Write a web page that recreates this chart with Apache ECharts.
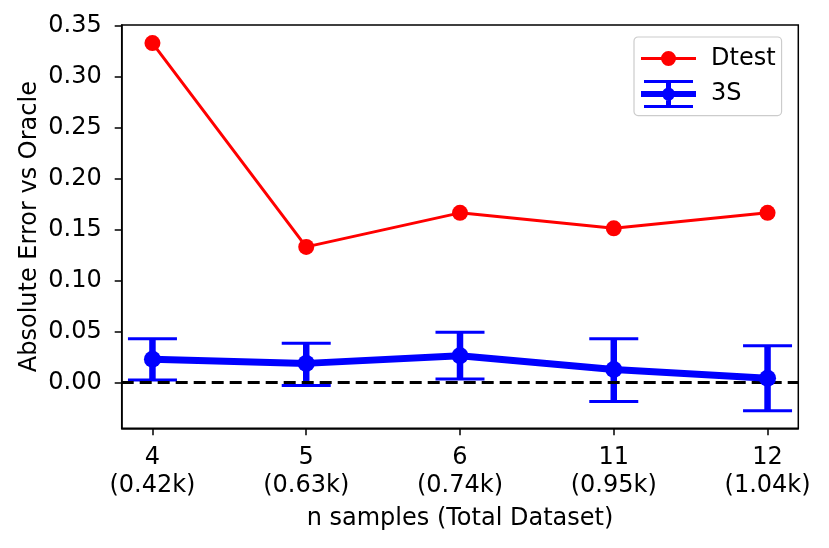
<!DOCTYPE html>
<html>
<head>
<meta charset="utf-8">
<script src="https://cdn.jsdelivr.net/npm/echarts@6/dist/echarts.min.js"></script>
<style>
html,body{margin:0;padding:0;background:#fff;}
#chart{width:829px;height:548px;}
</style>
</head>
<body>
<div id="chart"></div>
<script>
// ---- data ----
const nSamples = ['4', '5', '6', '11', '12'];
const totalDataset = ['0.42k', '0.63k', '0.74k', '0.95k', '1.04k'];
const dtestValues = [0.3333, 0.1333, 0.1667, 0.1515, 0.1667];
const s3Values = [0.0230, 0.0190, 0.0265, 0.0131, 0.0043];
const s3Lower = [0.0026, -0.0026, 0.0036, -0.0183, -0.0275];
const s3Upper = [0.0432, 0.0387, 0.0495, 0.0432, 0.0363];
const yTicks = [0, 0.05, 0.10, 0.15, 0.20, 0.25, 0.30, 0.35];
const xTicks = [0, 1, 2, 3, 4];

const FONT = 'DejaVu Sans';
const FS = 24;
const BLUE = '#0000ff';
const RED = '#ff0000';

const chart = echarts.init(document.getElementById('chart'), null, {renderer: 'canvas'});

const dtestData = dtestValues.map((v, i) => [i, v]);
const s3Data = s3Values.map((v, i) => [i, v]);
const errData = s3Lower.map((lo, i) => [i, lo, s3Upper[i]]);

// icons are 65x28 boxes: 55px drawn glyph + 10px blank space before the text
const corners = 'M0,0 h0.01 v0.01 Z M65,28 h-0.01 v-0.01 Z ';
const dtestIcon = 'path://' + corners +
  'M0,12.5 H55 V15.5 H0 Z M20,14 A7.5,7.5 0 1 1 35,14 A7.5,7.5 0 1 1 20,14 Z';
const s3Icon = 'path://' + corners + 'M0,11 H55 V17 H0 Z M25,0 H30 V28 H25 Z ' +
  'M3,0 H52 V3 H3 Z M3,25 H52 V28 H3 Z M21,14 A6.5,6.5 0 1 1 34,14 A6.5,6.5 0 1 1 21,14 Z';

const option = {
  backgroundColor: '#fff',
  animation: false,
  textStyle: {fontFamily: FONT},
  grid: {
    left: 121.7, right: 30.7, top: 25, bottom: 119.7,
    show: true, borderColor: '#000', borderWidth: 1.5, backgroundColor: 'transparent'
  },
  legend: {
    orient: 'vertical',
    left: 634, top: 37,
    padding: [7.5, 6, 7.5, 7],
    itemWidth: 65, itemHeight: 28, itemGap: 7.6,
    backgroundColor: '#fff',
    borderColor: '#cccccc', borderWidth: 1.2, borderRadius: 4,
    itemStyle: {borderWidth: 0},
    textStyle: {fontFamily: FONT, fontSize: FS, color: '#000'},
    data: [
      {name: 'Dtest', icon: dtestIcon},
      {name: '3S', icon: s3Icon}
    ]
  },
  xAxis: {
    type: 'value',
    min: -0.2, max: 4.2,
    name: 'n samples (Total Dataset)',
    nameLocation: 'middle', nameGap: 78,
    nameMoveOverlap: false,
    nameTextStyle: {fontFamily: FONT, fontSize: FS, color: '#000'},
    axisLine: {onZero: false, lineStyle: {color: '#000', width: 1.5}},
    axisTick: {customValues: xTicks, length: 7, lineStyle: {color: '#000', width: 1.5}},
    axisLabel: {
      customValues: xTicks,
      margin: 15,
      fontFamily: FONT, fontSize: FS, color: '#000', lineHeight: 28,
      formatter: v => {
        const i = Math.round(v);
        return nSamples[i] + '\n(' + totalDataset[i] + ')';
      }
    },
    splitLine: {show: false}
  },
  yAxis: {
    type: 'value',
    min: -0.0447, max: 0.351,
    name: 'Absolute Error vs Oracle',
    nameLocation: 'middle', nameGap: 80,
    nameMoveOverlap: false,
    nameTextStyle: {fontFamily: FONT, fontSize: FS, color: '#000'},
    axisLine: {show: true, onZero: false, lineStyle: {color: '#000', width: 1.5}},
    axisTick: {show: true, customValues: yTicks, length: 7, lineStyle: {color: '#000', width: 1.5}},
    axisLabel: {
      customValues: yTicks,
      margin: 20,
      fontFamily: FONT, fontSize: FS, color: '#000',
      formatter: v => v.toFixed(2)
    },
    splitLine: {show: false}
  },
  series: [
    {
      name: 'Dtest',
      type: 'line',
      data: dtestData,
      color: RED,
      lineStyle: {color: RED, width: 3},
      itemStyle: {color: RED, borderWidth: 0},
      symbol: 'circle', symbolSize: 16,
      z: 3
    },
    {
      name: '3S-err',
      type: 'custom',
      data: errData,
      z: 4,
      encode: {x: 0, y: [1, 2]},
      renderItem: (params, api) => {
        const x = api.value(0);
        const top = api.coord([x, api.value(2)]);
        const bot = api.coord([x, api.value(1)]);
        const hw = 24.5;
        return {
          type: 'group',
          children: [
            {type: 'line', shape: {x1: top[0], y1: top[1], x2: bot[0], y2: bot[1]},
             style: {stroke: BLUE, lineWidth: 6.5}},
            {type: 'line', shape: {x1: top[0] - hw, y1: top[1], x2: top[0] + hw, y2: top[1]},
             style: {stroke: BLUE, lineWidth: 3}},
            {type: 'line', shape: {x1: bot[0] - hw, y1: bot[1], x2: bot[0] + hw, y2: bot[1]},
             style: {stroke: BLUE, lineWidth: 3}}
          ]
        };
      }
    },
    {
      name: '3S',
      type: 'line',
      data: s3Data,
      color: BLUE,
      lineStyle: {color: BLUE, width: 7},
      itemStyle: {color: BLUE, borderWidth: 0},
      symbol: 'circle', symbolSize: 17,
      z: 5,
      markLine: {
        silent: true,
        symbol: 'none',
        label: {show: false},
        lineStyle: {color: '#000', width: 3, type: [12, 6]},
        data: [{yAxis: 0}]
      }
    }
  ]
};

chart.setOption(option);
</script>
</body>
</html>
